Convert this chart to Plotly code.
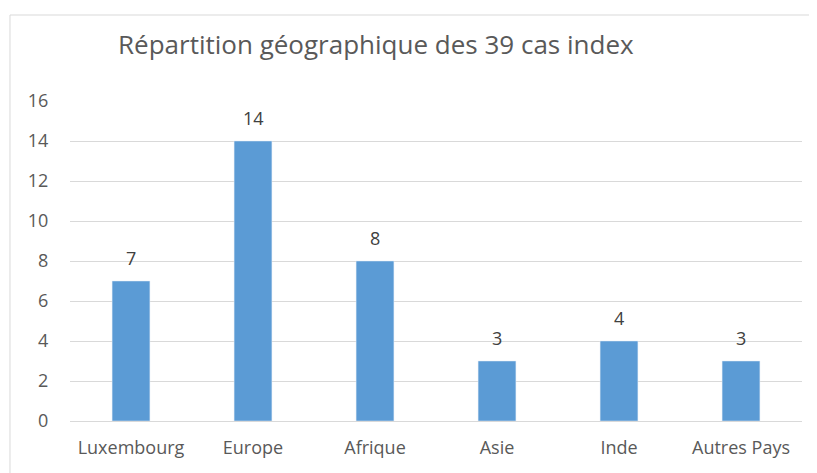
import plotly.graph_objects as go

categories = ["Luxembourg", "Europe", "Afrique", "Asie", "Inde", "Autres Pays"]
values = [7, 14, 8, 3, 4, 3]
title_text = "Répartition géographique des 39 cas index"
y_ticks = [0, 2, 4, 6, 8, 10, 12, 14, 16]

FONT = "Open Sans"
fig = go.Figure()
fig.add_trace(go.Bar(x=categories, y=values, marker_color="#5B9BD5", width=0.31, cliponaxis=False))

for c, v in zip(categories, values):
    fig.add_annotation(x=c, y=v, text=str(v), showarrow=False, yanchor="middle", yshift=23,
                       font=dict(family=FONT, size=18, color="#404040"))

fig.add_shape(type="rect", xref="paper", yref="paper", x0=-0.082, x1=1.2, y0=-0.5, y1=1.26875,
              line=dict(color="#D9D9D9", width=1), fillcolor="rgba(0,0,0,0)", layer="below")

fig.update_layout(
    width=817, height=473,
    margin=dict(l=62, r=23, t=93, b=60),
    paper_bgcolor="white", plot_bgcolor="white",
    showlegend=False,
    title=dict(text=title_text, x=110/817, xanchor="left", y=1-37/473, yanchor="middle",
               font=dict(family=FONT, size=26, color="#595959")),
    font=dict(family=FONT, color="#595959"),
)
fig.update_xaxes(showgrid=False, showline=False, ticks="outside", ticklen=10, tickcolor="rgba(0,0,0,0)",
                 tickfont=dict(family=FONT, size=18, color="#595959"))
fig.update_yaxes(range=[0, 16], tickvals=y_ticks, showgrid=True, gridcolor="#D9D9D9", gridwidth=1,
                 zeroline=True, zerolinecolor="#D9D9D9", zerolinewidth=1, showline=False,
                 ticks="outside", ticklen=17, tickcolor="rgba(0,0,0,0)",
                 tickfont=dict(family=FONT, size=18, color="#595959"))

fig.write_html("out.html")
